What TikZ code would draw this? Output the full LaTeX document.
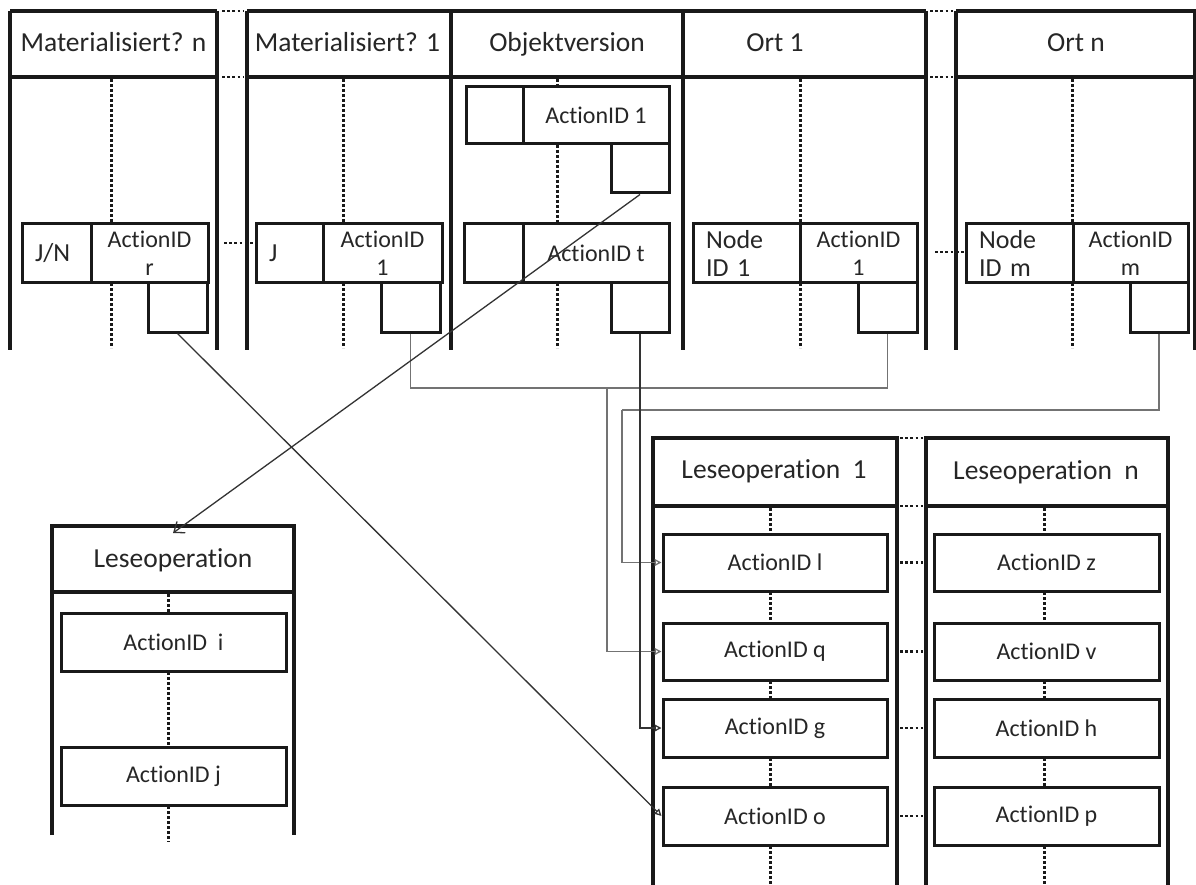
\documentclass[tikz,border=0pt]{standalone}
\usepackage{fontspec}
\setmainfont{Carlito}[Ligatures=CommonOff]
\usetikzlibrary{arrows.meta,calc}

\begin{document}
\begin{tikzpicture}[x=1pt,y=-1pt,
  wall/.style={line width=3.2pt, black!90},
  lifeline/.style={line width=3pt, black!90, dash pattern=on 2.8pt off 2.2pt},
  gapdots/.style={line width=2.8pt, black!90, dash pattern=on 2.8pt off 2.4pt},
  cell/.style={draw=black!90, line width=3pt, inner sep=0pt, text=black!85,
    font=\fontsize{24}{28}\selectfont, align=center},
  lcell/.style={cell, align=left, inner xsep=13pt, font=\fontsize{26}{28}\selectfont},
  head/.style={anchor=base, inner sep=0pt, text=black!85, font=\fontsize{27.5}{30}\selectfont},
  link/.style={line width=1.3pt, black!55},
  darklink/.style={line width=1.3pt, black!80},
  tip/.style={-{Triangle[open,length=7pt,width=7pt]}},
  barb/.style={-{Straight Barb[length=9pt,width=14pt]}}
]
\useasboundingbox (0,0) rectangle (1196,885);
\fill[white] (0,0) rectangle (1196,885);

% ---------- column frame at the top ----------
\draw[wall] (10,11) -- (217,11) (247,11) -- (926,11) (956,11) -- (1196,11);
\draw[wall] (10,77) -- (217,77) (247,77) -- (926,77) (956,77) -- (1196,77);
\foreach \x in {10,217,247,451,683,926,956,1194.5}
  \draw[wall] (\x,11) -- (\x,350);
\draw[gapdots] (222,11) -- (244,11) (222,77) -- (244,77);
\draw[gapdots] (930,11) -- (953,11) (930,77) -- (953,77);

\node[head] (hMatN) at (113.5,52) {Materialisiert? n};
\node[head] (hMatA) at (347.5,52) {Materialisiert? 1};
\node[head] (hObj)  at (567,52)   {Objektversion};
\node[head] (hOrtA) at (775,52)   {Ort 1};
\node[head] (hOrtN) at (1076,52)  {Ort n};

% lifelines of the top columns
\draw[lifeline] (111,79) -- (111,224) (111,283) -- (111,348);
\draw[lifeline] (343,79) -- (343,224) (343,283) -- (343,348);
\draw[lifeline] (557,79) -- (557,87) (557,145) -- (557,224) (557,283) -- (557,348);
\draw[lifeline] (800,79) -- (800,224) (800,283) -- (800,348);
\draw[lifeline] (1072,79) -- (1072,224) (1072,283) -- (1072,348);

% ---------- entries of the top columns ----------
\node[lcell, text width=43pt, minimum height=58pt] (cJN) at (56.5,253) {J/N};
\node[cell, minimum width=117pt, minimum height=58pt] (cAr) at (149.5,253) {ActionID\\r};
\node[cell, minimum width=59pt, minimum height=50pt] (smJN) at (177.5,307) {};

\node[lcell, text width=41pt, minimum height=58pt] (cJ) at (289.5,253) {J};
\node[cell, minimum width=119pt, minimum height=58pt] (cAa) at (382.5,253) {ActionID\\1};
\node[cell, minimum width=59pt, minimum height=50pt] (smMA) at (410.5,307) {};

\node[cell, minimum width=57pt, minimum height=57pt] (cOaL) at (494.5,115.5) {};
\node[cell, minimum width=146pt, minimum height=57pt] (cOa) at (596,115.5) {ActionID 1};
\node[cell, minimum width=58pt, minimum height=49pt] (smOa) at (640,168.5) {};

\node[cell, minimum width=59pt, minimum height=58pt] (cOtL) at (493.5,253) {};
\node[cell, minimum width=146pt, minimum height=58pt] (cOt) at (596,253) {ActionID t};
\node[cell, minimum width=58pt, minimum height=50pt] (smOt) at (640,307) {};

\node[lcell, text width=81pt, minimum height=58pt] (cNa) at (746.5,253) {Node\\ID 1};
\node[cell, minimum width=117pt, minimum height=58pt] (cAb) at (858.5,253) {ActionID\\1};
\node[cell, minimum width=59pt, minimum height=50pt] (smRA) at (887.5,307) {};

\node[lcell, text width=81pt, minimum height=58pt] (cNm) at (1019.5,253) {Node\\ID m};
\node[cell, minimum width=115pt, minimum height=58pt] (cAm) at (1130.5,253) {ActionID\\m};
\node[cell, minimum width=58pt, minimum height=50pt] (smRN) at (1159,307) {};

\draw[gapdots] (224,243) -- (254,243);
\draw[gapdots] (935,252) -- (964,252);

% ---------- single read operation (left) ----------
\draw[wall] (52,835) -- (52,526) -- (294,526) -- (294,835);
\draw[wall] (52,592) -- (294,592);
\node[head] (hRead) at (173,567) {Leseoperation};
\node[cell, minimum width=225pt, minimum height=58pt] (bi) at (173.5,642) {ActionID\ \ i};
\node[cell, minimum width=225pt, minimum height=58pt] (bj) at (173.5,776) {ActionID j};
\draw[lifeline] (168,594) -- (168,613) (168,672) -- (168,747) (168,806) -- (168,842);

% ---------- read operations 1 .. n (right) ----------
\draw[wall] (653,885) -- (653,438) -- (897,438) -- (897,885);
\draw[wall] (653,506) -- (897,506);
\draw[wall] (926,885) -- (926,438) -- (1168,438) -- (1168,885);
\draw[wall] (926,506) -- (1168,506);
\node[head] (hReadA) at (774,478) {Leseoperation\ \ 1};
\node[head] (hReadN) at (1046,479) {Leseoperation\ \ n};

\node[cell, minimum width=224pt, minimum height=57pt] (bl) at (775,562.5) {ActionID l};
\node[cell, minimum width=224pt, minimum height=57pt] (bq) at (775,651.5) {ActionID q};
\node[cell, minimum width=224pt, minimum height=58pt] (bg) at (775,728) {ActionID g};
\node[cell, minimum width=224pt, minimum height=58pt] (bo) at (775,816) {ActionID o};

\node[cell, minimum width=225pt, minimum height=57pt] (bz) at (1046.5,562.5) {ActionID z};
\node[cell, minimum width=225pt, minimum height=57pt] (bv) at (1046.5,651.5) {ActionID v};
\node[cell, minimum width=225pt, minimum height=58pt] (bh) at (1046.5,728) {ActionID h};
\node[cell, minimum width=225pt, minimum height=58pt] (bp) at (1046.5,816) {ActionID p};

\draw[lifeline] (770,508) -- (770,534) (770,592) -- (770,623) (770,681) -- (770,699)
  (770,758) -- (770,787) (770,846) -- (770,885);
\draw[lifeline] (1044,508) -- (1044,534) (1044,592) -- (1044,623) (1044,681) -- (1044,699)
  (1044,758) -- (1044,787) (1044,846) -- (1044,885);

\foreach \y in {438,506,562.5,651.5,728,816}
  \draw[gapdots] (900,\y) -- (923,\y);

% ---------- connectors ----------
\coordinate (joinA) at (607,388);
\coordinate (bendN) at (622,410);
\coordinate (readTip) at (173,533);

\draw[link] (smMA.south) |- (joinA) -| (smRA.south);
\draw[link, tip] (joinA) |- (bq.west);
\draw[link] (smRN.south) |- (bendN);
\draw[link, tip] (bendN) |- (bl.west);
\draw[darklink, tip] (smOt.south) |- (bg.west);
\draw[darklink, tip] (smJN.south) -- (bo.west);
\draw[darklink, barb] (smOa.south) -- (readTip);
\end{tikzpicture}
\end{document}
